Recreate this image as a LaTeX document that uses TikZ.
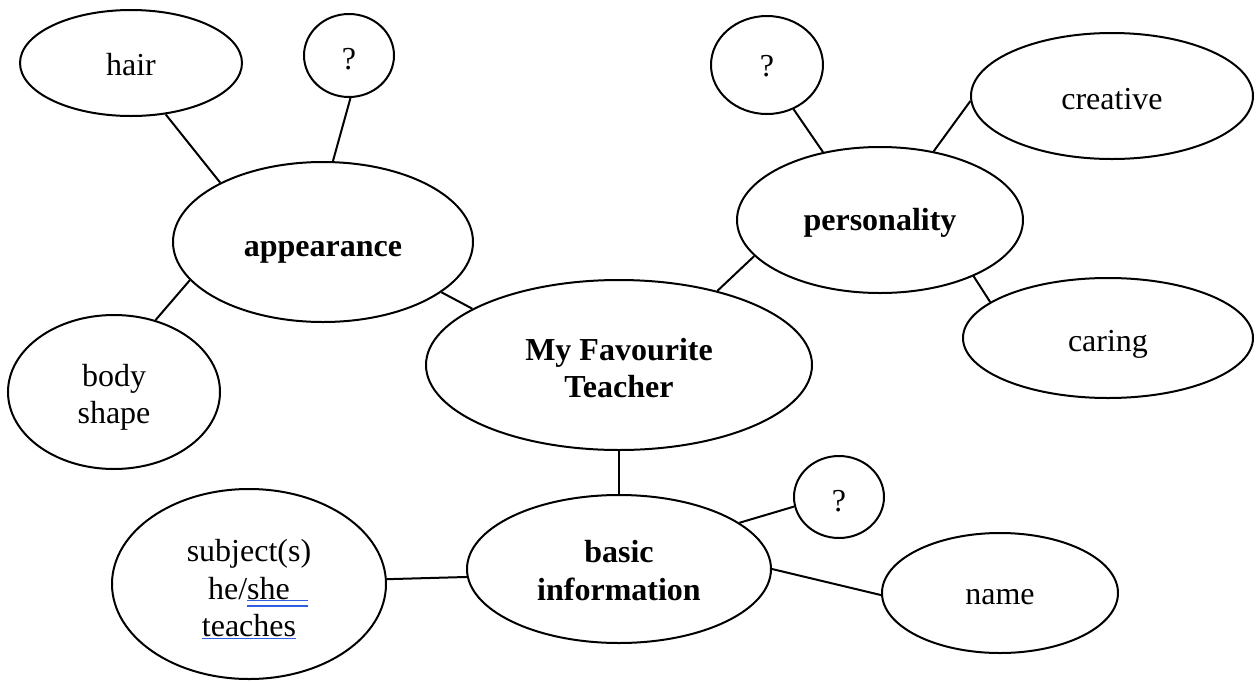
\documentclass[tikz,border=0pt]{standalone}
\usepackage{fontspec}
\setmainfont{Liberation Serif}
\usetikzlibrary{shapes.geometric}
\definecolor{ulblue}{RGB}{45,95,225}
\newcommand\myuldbl[2]{\setbox0\hbox{#1}\rlap{\color{ulblue}\rule[-1.1pt]{\dimexpr\wd0+#2\relax}{0.7pt}}\rlap{\color{ulblue}\rule[-3.7pt]{\dimexpr\wd0+#2\relax}{0.7pt}}\box0}
\newcommand\myulone[1]{\setbox0\hbox{#1}\rlap{\color{ulblue}\rule[-1.1pt]{\wd0}{0.7pt}}\box0}
\newcommand\mlines[1]{\begin{tabular}[t]{@{}c@{}}#1\end{tabular}}
\tikzset{
  bub/.style={ellipse, draw, line width=1pt, inner sep=0pt,
    font=\fontsize{16pt}{18.75pt}\selectfont},
  bubb/.style={bub, font=\fontsize{16pt}{18.75pt}\selectfont\bfseries},
  sz/.style 2 args={minimum width=#1, minimum height=#2},
  tb/.style 2 args={text height=#1, text depth=#2},
  conn/.style={line width=1pt}
}
\begin{document}
\begin{tikzpicture}[x=0.5pt,y=-0.5pt]
\useasboundingbox[fill=white] (0,0) rectangle (1260,681);
% appearance cluster
\node[bub, sz={111pt}{53pt}, tb={12.7pt}{0pt}] (hair) at (131,63) {hair};
\node[bub, sz={45pt}{41.5pt}, tb={13.8pt}{0pt}] (q1) at (349,55.5) {?};
\node[bubb, sz={150pt}{80pt}, tb={14.7pt}{0pt}] (app) at (323,242) {appearance};
\node[bub, sz={106pt}{77pt}, tb={12.75pt}{18.75pt}] (body) at (114,392) {\mlines{body\\shape}};
% centre
\node[bubb, sz={193pt}{85pt}, tb={14.05pt}{18.75pt}] (mft) at (619,365) {\mlines{My Favourite\\Teacher}};
% personality cluster
\node[bub, sz={56pt}{49pt}, tb={11pt}{0pt}] (q2) at (767,65) {?};
\node[bub, sz={141pt}{63pt}, tb={13.3pt}{0pt}] (creative) at (1112,96) {creative};
\node[bubb, sz={143pt}{73pt}, tb={10pt}{0pt}] (pers) at (880,220) {personality};
\node[bub, sz={145pt}{60pt}, tb={13.7pt}{0pt}] (caring) at (1108,338) {caring};
% basic information cluster
\node[bubb, sz={152pt}{74pt}, tb={12.25pt}{18.75pt}] (basic) at (619,569) {\mlines{basic\\information}};
\node[bub, sz={45pt}{41pt}, tb={14.7pt}{0pt}] (q3) at (839,497) {?};
\node[bub, sz={118pt}{60pt}, tb={11pt}{0pt}] (name) at (1000,593) {name};
\node[bub, sz={137pt}{95pt}, tb={15.2pt}{37.5pt}] (subj) at (249,584) {\mlines{subject(s)\\he/\myuldbl{she}{9pt}\\\myulone{teaches}}};
% connectors
\draw[conn] (hair.-56.6) -- (app.150.2);
\draw[conn] (q1.-88.6) -- (app.83.6);
\draw[conn] (app.196.6) -- (body.60.3);
\draw[conn] (app.-23) -- (mft.159.2);
\draw[conn] (mft.37.5) -- (pers.196.9);
\draw[conn] (pers.130.9) -- (q2.-59.4);
\draw[conn] (pers.52.6) -- (creative.182.8);
\draw[conn] (pers.-31.8) -- (caring.163.7);
\draw[conn] (mft.south) -- (basic.north);
\draw[conn] (basic.21.7) -- (q3.192.5);
\draw[conn] (basic.0) -- (name.181.5);
\draw[conn] (basic.183.4) -- (subj.2.5);
\end{tikzpicture}
\end{document}
